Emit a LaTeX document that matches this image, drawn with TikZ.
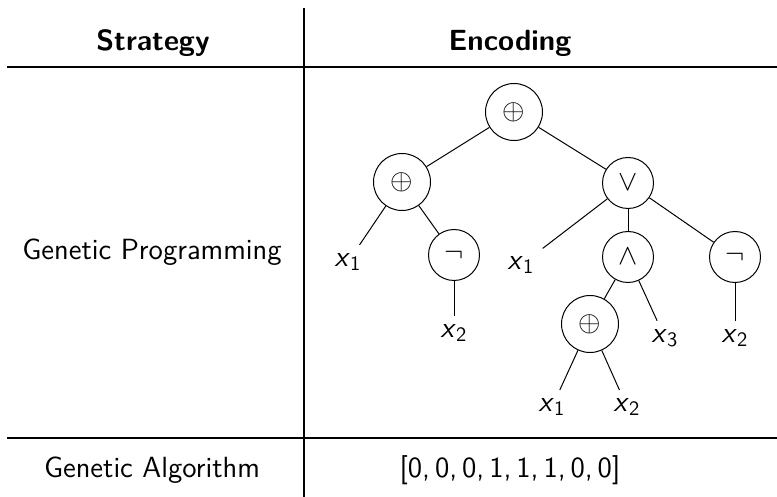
\documentclass[tikz,border=0pt]{standalone}
\usepackage{fontspec}
\renewcommand\familydefault{\sfdefault}
\newcommand\xv[1]{\textit{x}\textsubscript{#1}}
\begin{document}
\begin{tikzpicture}[x=0.5pt,y=-0.5pt,
  every node/.style={font=\fontsize{14.6}{17}\selectfont},
  op/.style={draw,circle,inner sep=0pt,minimum size=25.5pt,line width=0.5pt},
  bigop/.style={op,minimum size=28.5pt},
  leaf/.style={inner sep=4pt},
  edge/.style={line width=0.5pt},
  rule/.style={line width=0.6pt}]
\useasboundingbox (0,0) rectangle (777,497);

% table frame
\draw[rule] (304,8) -- (304,497);
\draw[rule] (7,67) -- (777,67);
\draw[rule] (7,438) -- (777,438);

% headers and row labels
\node (hs) at (153,43) {\bfseries Strategy};
\node (he) at (510,43) {\bfseries Encoding};
\node (gp) at (152,252) {Genetic Programming};
\node (ga) at (152,470) {Genetic Algorithm};
\node (enc) at (510,470) {[0,\,0,\,0,\,1,\,1,\,1,\,0,\,0]};

% expression tree
\node[bigop] (root) at (514,112) {$\oplus$};
\node[bigop] (lplus) at (402,182) {$\oplus$};
\node[op] (vee) at (628,183) {$\vee$};
\node[op] (lneg) at (454,255) {$\neg$};
\node[op] (wedge) at (628,257) {$\wedge$};
\node[op] (rneg) at (735,257) {$\neg$};
\node[bigop] (bplus) at (590,324) {$\oplus$};

\node[leaf] (x1a) at (348,262) {\xv{1}};
\node[leaf] (x2a) at (454,333) {\xv{2}};
\node[leaf] (x1b) at (521,265) {\xv{1}};
\node[leaf] (x3) at (665,338) {\xv{3}};
\node[leaf] (x2b) at (735,338) {\xv{2}};
\node[leaf] (x1c) at (552,407) {\xv{1}};
\node[leaf] (x2c) at (627,407) {\xv{2}};

\draw[edge] (root) -- (lplus);
\draw[edge] (root) -- (vee);
\draw[edge] (lplus) -- (x1a);
\draw[edge] (lplus) -- (lneg);
\draw[edge] (lneg) -- (x2a);
\draw[edge] (vee) -- (x1b);
\draw[edge] (vee) -- (wedge);
\draw[edge] (vee) -- (rneg);
\draw[edge] (wedge) -- (bplus);
\draw[edge] (wedge) -- (x3);
\draw[edge] (rneg) -- (x2b);
\draw[edge] (bplus) -- (x1c);
\draw[edge] (bplus) -- (x2c);
\end{tikzpicture}
\end{document}
